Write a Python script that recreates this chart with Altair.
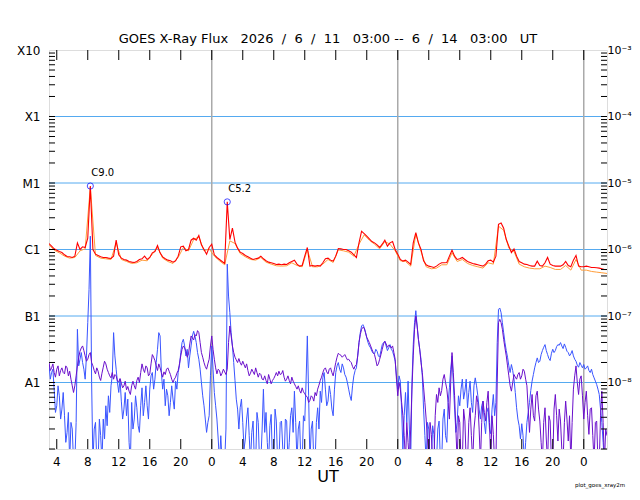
import altair as alt
import pandas as pd

# ---------------- data (log10 of flux, W/m^2), samples from 2026-06-11 03:00 UT
LONG_STEP_MIN = 20      # long channel (red)
ORANGE_STEP_MIN = 40    # secondary long channel (orange)
SHORT_STEP_MIN = 10     # short channels (blue, purple)

RED_LOG = [
    -5.91, -5.95, -5.99, -6.01, -6.03, -6.045, -6.08, -6.105, -6.11, -6.12,
    -6.10, -5.90, -6.00, -5.96, -5.97, -5.83, -5.045, -6.00, -6.07, -6.09,
    -6.11, -6.12, -6.12, -6.13, -6.135, -6.10, -5.86, -6.08, -6.13, -6.15,
    -6.16, -6.18, -6.19, -6.195, -6.18, -6.15, -6.14, -6.10, -6.15, -6.12,
    -6.05, -6.03, -5.94, -6.05, -6.11, -6.14, -6.16, -6.17, -6.19, -6.17,
    -6.10, -5.96, -5.95, -6.02, -6.00, -5.86, -5.83, -5.86, -5.79, -5.93,
    -6.00, -6.07, -5.97, -5.92, -6.08, -6.12, -6.15, -6.18, -6.21, -5.284,
    -5.85, -5.68, -5.89, -5.98, -6.04, -6.06, -6.09, -6.11, -6.13, -6.15,
    -6.14, -6.13, -6.10, -6.14, -6.17, -6.19, -6.20, -6.21, -6.225, -6.22,
    -6.23, -6.22, -6.225, -6.20, -6.18, -6.16, -6.22, -6.25, -6.24, -6.10,
    -5.97, -6.25, -6.24, -6.25, -6.24, -6.25, -6.20, -6.14, -6.13, -6.16,
    -6.175, -6.10, -5.985, -5.99, -6.00, -6.00, -6.02, -6.04, -6.08, -6.12,
    -5.90, -5.725, -5.76, -5.80, -5.84, -5.88, -5.90, -5.93, -5.97, -5.92,
    -5.86, -5.95, -5.90, -5.88, -6.00, -6.07, -6.15, -6.175, -6.16, -6.19,
    -6.225, -5.90, -5.745, -5.90, -6.00, -6.17, -6.23, -6.25, -6.26, -6.27,
    -6.25, -6.22, -6.20, -6.20, -6.195, -6.10, -6.01, -6.10, -6.15, -6.14,
    -6.12, -6.15, -6.18, -6.195, -6.21, -6.22, -6.23, -6.24, -6.25, -6.22,
    -6.17, -6.16, -6.19, -6.10, -5.62, -5.60, -5.68, -5.85, -5.95, -6.045,
    -5.99, -6.10, -6.18, -6.20, -6.22, -6.225, -6.24, -6.25, -6.25, -6.175,
    -6.24, -6.25, -6.20, -6.12, -6.22, -6.24, -6.25, -6.25, -6.25, -6.23,
    -6.18, -6.24, -6.26, -6.16, -6.09, -6.25, -6.26, -6.26, -6.25, -6.26,
    -6.27, -6.27, -6.275, -6.28, -6.29, -6.30, -6.30,
]

ORANGE_LOG = [
    -5.93, -6.01, -6.05, -6.10, -6.13, -6.12, -6.02, -5.99, -5.06, -6.09,
    -6.13, -6.14, -6.15, -5.90, -6.15, -6.18, -6.21, -6.20, -6.16, -6.17,
    -6.07, -5.97, -6.13, -6.18, -6.21, -6.12, -5.97, -6.02, -5.85, -5.81,
    -6.02, -5.99, -6.10, -6.17, -6.23, -5.87, -5.91, -6.06, -6.11, -6.15,
    -6.16, -6.12, -6.19, -6.22, -6.245, -6.25, -6.245, -6.20, -6.24, -6.26,
    -6.00, -6.26, -6.26, -6.22, -6.15, -6.195, -6.005, -6.02, -6.04, -6.10,
    -5.92, -5.78, -5.86, -5.92, -5.99, -5.88, -5.92, -6.02, -6.17, -6.18,
    -6.25, -5.77, -6.03, -6.26, -6.29, -6.28, -6.23, -6.23, -6.05, -6.18,
    -6.15, -6.21, -6.24, -6.26, -6.28, -6.20, -6.22, -5.65, -5.71, -5.98,
    -6.03, -6.22, -6.26, -6.28, -6.29, -6.29, -6.25, -6.27, -6.30, -6.30,
    -6.24, -6.31, -6.15, -6.31, -6.31, -6.33, -6.34, -6.35, -6.36,
]

BLUE_LOG = [
    -7.73, -7.95, -7.85, -7.80, -8.10, -8.45, -8.35, -8.05, -8.20, -8.55,
    -8.40, -8.15, -8.50, -8.90, -8.75, -8.45, -9.20, -8.60, -8.70, -9.20,
    -9.20, -8.60, -7.20, -7.75, -7.65, -7.55, -7.70, -7.80, -7.95, -7.60,
    -7.10, -6.60, -5.80, -8.00, -9.20, -8.70, -8.60, -9.20, -9.20, -8.55,
    -8.80, -9.20, -8.55, -8.85, -8.35, -8.65, -8.20, -8.45, -8.05, -7.90,
    -7.25, -7.60, -7.80, -8.00, -8.15, -7.95, -8.28, -8.55, -8.40, -8.15,
    -8.50, -8.25, -8.90, -9.20, -8.30, -8.70, -8.55, -8.20, -8.38, -8.65,
    -8.75, -8.35, -8.08, -8.50, -8.30, -8.05, -8.35, -8.55, -8.10, -7.90,
    -7.85, -8.10, -7.95, -7.70, -7.50, -7.25, -7.30, -7.85, -8.10, -7.95,
    -8.35, -8.10, -8.20, -8.50, -8.30, -8.05, -8.25, -8.40, -7.98, -8.10,
    -7.85, -7.75, -7.55, -7.40, -7.35, -7.45, -7.60, -7.50, -7.78, -7.60,
    -7.45, -7.30, -7.23, -7.30, -7.40, -7.55, -7.65, -7.80, -8.00, -8.20,
    -8.35, -8.55, -8.75, -8.60, -8.50, -7.90, -7.45, -7.80, -8.15, -8.35,
    -8.55, -8.85, -9.20, -8.80, -9.20, -9.20, -9.20, -8.70, -6.22, -6.70,
    -6.95, -7.25, -7.45, -7.70, -7.97, -8.25, -8.40, -8.70, -8.38, -8.25,
    -8.60, -9.00, -8.85, -8.55, -8.38, -8.80, -9.20, -8.75, -8.58, -9.20,
    -9.20, -8.45, -8.60, -9.20, -9.20, -8.70, -8.10, -8.75, -8.45, -8.90,
    -9.20, -8.65, -8.48, -9.20, -9.20, -8.40, -8.58, -9.20, -9.20, -8.60,
    -8.58, -9.00, -9.20, -8.55, -8.58, -9.20, -8.90, -8.50, -8.38, -8.75,
    -8.13, -8.60, -9.20, -8.70, -8.58, -9.20, -9.20, -8.50, -8.58, -8.00,
    -7.30, -8.20, -9.20, -8.70, -8.58, -9.20, -9.20, -8.60, -8.38, -8.70,
    -8.13, -8.30, -7.93, -7.85, -8.10, -8.35, -8.28, -8.05, -8.18, -8.40,
    -8.50, -8.10, -7.85, -7.75, -7.70, -7.80, -7.85, -7.72, -7.78, -7.88,
    -7.92, -8.00, -8.10, -8.20, -8.27, -8.05, -7.90, -7.82, -7.78, -7.60,
    -7.40, -7.25, -7.15, -7.13, -7.17, -7.24, -7.33, -7.40, -7.45, -7.48,
    -7.53, -7.56, -7.57, -7.50, -7.53, -7.60, -7.62, -7.52, -7.43, -7.40,
    -7.38, -7.45, -7.52, -7.48, -7.43, -7.50, -7.53, -7.60, -7.68, -7.90,
    -8.10, -7.90, -7.98, -8.40, -9.00, -8.50, -8.15, -8.60, -7.98, -8.70,
    -9.20, -8.00, -7.43, -7.10, -6.92, -7.15, -7.35, -7.50, -7.65, -7.90,
    -8.40, -8.80, -9.20, -8.60, -8.70, -9.20, -9.20, -8.65, -8.78, -9.20,
    -9.20, -8.70, -8.58, -9.20, -9.20, -8.55, -8.40, -8.80, -8.90, -8.30,
    -8.08, -7.80, -7.60, -8.00, -8.40, -8.75, -8.60, -8.20, -8.35, -8.10,
    -7.95, -8.25, -8.13, -7.95, -8.38, -8.15, -7.98, -8.30, -8.45, -8.05,
    -7.93, -8.05, -8.20, -8.40, -8.55, -8.35, -8.28, -8.60, -8.77, -8.45,
    -8.38, -8.70, -8.77, -8.40, -8.18, -8.50, -8.30, -7.40, -6.90, -6.88,
    -6.95, -7.10, -7.25, -7.40, -7.52, -7.62, -7.75, -7.85, -7.73, -7.82,
    -7.95, -8.15, -8.38, -8.55, -8.65, -8.85, -8.62, -8.80, -9.20, -8.90,
    -8.60, -8.45, -8.30, -8.12, -7.98, -7.88, -7.78, -7.70, -7.63, -7.70,
    -7.68, -7.58, -7.52, -7.47, -7.43, -7.52, -7.58, -7.64, -7.67, -7.56,
    -7.50, -7.55, -7.52, -7.46, -7.43, -7.44, -7.40, -7.45, -7.49, -7.42,
    -7.47, -7.53, -7.55, -7.60, -7.57, -7.52, -7.60, -7.65, -7.68, -7.74,
    -7.77, -7.70, -7.74, -7.78, -7.73, -7.80, -7.78, -7.75, -7.82, -7.85,
    -7.80, -7.88, -7.93, -7.98, -8.03, -8.10, -8.18, -8.40, -8.60, -8.90,
    -9.20, -9.20, -9.20,
]

PURPLE_LOG = [
    -7.70, -7.82, -7.78, -7.72, -7.85, -7.92, -7.80, -7.75, -7.90, -7.82,
    -7.78, -7.85, -7.87, -7.75, -7.78, -7.90, -7.83, -7.95, -8.05, -8.15,
    -8.05, -7.90, -7.75, -7.62, -7.53, -7.48, -7.45, -7.52, -7.60, -7.68,
    -7.65, -7.58, -7.55, -7.70, -7.75, -7.82, -7.87, -7.78, -7.83, -7.92,
    -7.97, -7.86, -7.77, -7.68, -7.72, -7.80, -7.85, -7.90, -7.93, -7.85,
    -7.95, -7.88, -7.90, -7.98, -7.99, -7.94, -8.01, -8.08, -8.05, -7.98,
    -8.11, -8.06, -8.13, -8.18, -8.05, -7.98, -8.05, -8.10, -7.97, -7.92,
    -8.00, -7.85, -7.72, -7.80, -7.85, -7.75, -7.78, -7.90, -7.87, -7.72,
    -7.58, -7.62, -7.67, -7.75, -7.82, -7.72, -7.78, -7.85, -7.92, -7.84,
    -7.88, -7.80, -7.78, -7.83, -7.88, -7.95, -8.00, -7.95, -7.92, -7.86,
    -7.82, -7.72, -7.60, -7.50, -7.45, -7.48, -7.53, -7.62, -7.57, -7.42,
    -7.30, -7.33, -7.36, -7.28, -7.30, -7.22, -7.25, -7.40, -7.55, -7.62,
    -7.70, -7.76, -7.80, -7.72, -7.65, -7.45, -7.30, -7.50, -7.65, -7.78,
    -7.87, -7.80, -7.82, -7.90, -7.86, -7.80, -7.84, -7.88, -7.80, -7.40,
    -7.15, -7.30, -7.45, -7.55, -7.62, -7.66, -7.70, -7.64, -7.70, -7.74,
    -7.68, -7.73, -7.78, -7.72, -7.82, -7.90, -7.86, -7.80, -7.84, -7.88,
    -7.78, -7.85, -7.92, -7.86, -7.88, -7.95, -7.96, -7.90, -7.97, -8.02,
    -7.88, -7.95, -8.02, -7.97, -7.94, -7.90, -7.85, -7.90, -7.83, -7.88,
    -7.87, -7.82, -7.92, -7.98, -7.95, -7.90, -7.97, -8.02, -7.92, -7.98,
    -8.02, -8.06, -8.10, -8.05, -8.12, -8.16, -8.08, -8.14, -8.17, -8.20,
    -8.22, -8.30, -8.27, -8.20, -8.22, -8.28, -8.15, -8.20, -8.10, -8.04,
    -7.97, -7.92, -7.85, -7.80, -7.78, -7.84, -7.87, -7.80, -7.78, -7.85,
    -7.90, -7.80, -7.70, -7.62, -7.56, -7.58, -7.59, -7.62, -7.60, -7.58,
    -7.62, -7.66, -7.65, -7.68, -7.70, -7.76, -7.80, -7.75, -7.73, -7.60,
    -7.40, -7.28, -7.20, -7.17, -7.18, -7.25, -7.32, -7.36, -7.40, -7.45,
    -7.50, -7.55, -7.58, -7.66, -7.75, -7.72, -7.65, -7.58, -7.50, -7.42,
    -7.38, -7.42, -7.47, -7.44, -7.45, -7.48, -7.45, -7.55, -7.65, -7.95,
    -8.20, -8.00, -8.10, -8.30, -8.50, -8.80, -9.20, -8.60, -8.90, -9.20,
    -8.70, -8.10, -7.60, -7.20, -7.00, -7.15, -7.35, -7.50, -7.70, -7.85,
    -8.07, -8.30, -8.55, -8.85, -9.20, -8.60, -8.78, -9.20, -9.20, -8.50,
    -8.18, -8.30, -8.08, -8.20, -8.12, -7.95, -7.88, -8.00, -8.10, -8.30,
    -8.55, -8.00, -7.55, -7.85, -8.20, -8.70, -9.20, -8.50, -8.60, -9.20,
    -9.20, -8.40, -8.58, -9.20, -9.20, -8.60, -8.38, -8.80, -9.20, -8.70,
    -8.50, -8.20, -8.30, -8.70, -9.20, -8.60, -8.28, -8.45, -8.58, -8.30,
    -8.13, -8.60, -9.20, -8.50, -8.78, -9.20, -9.20, -8.00, -7.10, -7.05,
    -7.10, -7.20, -7.35, -7.48, -7.60, -7.75, -7.90, -8.05, -8.13, -8.00,
    -7.88, -7.92, -7.95, -7.88, -7.85, -7.95, -7.90, -7.80, -7.83, -7.95,
    -8.05, -8.40, -8.75, -8.40, -8.18, -8.50, -8.58, -8.20, -8.13, -8.40,
    -8.58, -8.90, -9.20, -8.60, -8.38, -8.85, -9.20, -8.50, -8.58, -9.20,
    -9.20, -8.40, -8.18, -8.50, -8.88, -8.40, -8.58, -9.00, -9.20, -8.60,
    -8.28, -8.55, -8.88, -8.50, -9.20, -8.60, -8.10, -7.90, -7.75, -8.00,
    -8.18, -7.95, -7.90, -8.20, -8.55, -8.30, -8.13, -8.50, -8.78, -8.40,
    -8.38, -8.80, -9.20, -8.60, -8.58, -9.20, -9.20, -8.50, -8.13, -8.60,
    -9.20, -8.70, -8.80,
]

FLARE_HOURS = [5.333, 23.0]
FLARE_FLUX = [9.0e-6, 5.2e-6]
FLARE_LABELS = ["C9.0", "C5.2"]

DECADES = [1e-8, 1e-7, 1e-6, 1e-5, 1e-4, 1e-3]
GRID_DECADES = [1e-8, 1e-7, 1e-6, 1e-5, 1e-4]
DAY_START_HOURS = [21, 45, 69]
HOUR_TICKS = [1, 5, 9, 13, 17, 21, 25, 29, 33, 37, 41, 45, 49, 53, 57, 61, 65, 69]
START_HOUR_UT = 3

NB = "\u00a0"
TITLE = ("GOES X-Ray Flux" + NB * 3 + "2026" + NB * 2 + "/" + NB * 2 + "6" + NB * 2 + "/" + NB * 2 + "11"
         + NB * 3 + "03:00" + NB + "--" + NB * 2 + "6" + NB * 2 + "/" + NB * 2 + "14" + NB * 3 + "03:00"
         + NB * 3 + "UT")


# ---------------- build tables
def series_frame(vals, step_min):
    return pd.DataFrame({
        "h": [i * step_min / 60 for i in range(len(vals))],
        "flux": [10 ** v for v in vals],
    })


red_df = series_frame(RED_LOG, LONG_STEP_MIN)
orange_df = series_frame(ORANGE_LOG, ORANGE_STEP_MIN)
blue_df = series_frame(BLUE_LOG, SHORT_STEP_MIN)
purple_df = series_frame(PURPLE_LOG, SHORT_STEP_MIN)
flare_df = pd.DataFrame({"h": FLARE_HOURS, "flux": FLARE_FLUX, "label": FLARE_LABELS})

ytick_vals = [k * 10.0 ** n for n in range(-9, -3) for k in range(1, 10)]
ytick_df = pd.DataFrame({"v": ytick_vals})
grid_df = pd.DataFrame({"v": GRID_DECADES})
day_df = pd.DataFrame({"h": DAY_START_HOURS})
xtick_df = pd.DataFrame({"h": HOUR_TICKS})

W, H = 558, 399
FONT = "DejaVu Sans"

xs = alt.Scale(domain=[0, 72], nice=False, zero=False)
ys = alt.Scale(type="log", domain=[1e-9, 1e-3], nice=False)

left_axis = alt.Axis(
    orient="left", values=DECADES, ticks=False, domain=False, grid=False,
    labelExpr="['','','','X10','X1','M1','C1','B1','A1'][round(-log(datum.value)/LN10)]",
    labelPadding=9, labelFontSize=12, labelFont=FONT, labelColor="black",
    labelOverlap=False, labelFlush=False, title=None,
)
right_axis = alt.Axis(
    orient="right", values=DECADES, ticks=False, domain=False, grid=False,
    labelExpr="'10\u207b' + ['','','','\u00b3','\u2074','\u2075','\u2076','\u2077','\u2078'][round(-log(datum.value)/LN10)]",
    labelPadding=0, labelFontSize=11, labelFont=FONT, labelColor="black",
    labelOverlap=False, labelFlush=False, title=None,
)

grid_layer = alt.Chart(grid_df).mark_rule(color="#55aaf0", strokeWidth=1).encode(
    y=alt.Y("v:Q", scale=ys, axis=left_axis)
)
day_layer = alt.Chart(day_df).mark_rule(color="#aaaaaa", strokeWidth=1.5).encode(
    x=alt.X("h:Q", scale=xs, axis=None)
)


def line_layer(df, color, width):
    return alt.Chart(df).mark_line(color=color, strokeWidth=width, clip=True).encode(
        x=alt.X("h:Q", scale=xs, axis=None),
        y=alt.Y("flux:Q", scale=ys, axis=None),
    )


blue_layer = line_layer(blue_df, "#3a55ff", 1)
purple_layer = line_layer(purple_df, "#6a0fcc", 1)
orange_layer = line_layer(orange_df, "#ff9d3a", 1)
red_layer = line_layer(red_df, "#ff0000", 1.1)

ytick_left = alt.Chart(ytick_df).mark_rule(color="black", strokeWidth=1).encode(
    y=alt.Y("v:Q", scale=ys, axis=right_axis), x=alt.value(0), x2=alt.value(6)
)
ytick_right = alt.Chart(ytick_df).mark_rule(color="black", strokeWidth=1).encode(
    y=alt.Y("v:Q", scale=ys, axis=None), x=alt.value(W - 6), x2=alt.value(W)
)
xtick_bottom = alt.Chart(xtick_df).mark_rule(color="black", strokeWidth=1).encode(
    x=alt.X("h:Q", scale=xs, axis=None), y=alt.value(H - 10), y2=alt.value(H)
)
xtick_top = alt.Chart(xtick_df).mark_rule(color="black", strokeWidth=1).encode(
    x=alt.X("h:Q", scale=xs, axis=None), y=alt.value(0), y2=alt.value(10)
)
xlabels = alt.Chart(xtick_df).transform_calculate(
    lab=f"(datum.h + {START_HOUR_UT}) % 24"
).mark_text(baseline="middle", align="center", fontSize=12, font=FONT, color="black").encode(
    x=alt.X("h:Q", scale=xs, axis=None), y=alt.value(H + 13), text="lab:N"
)
xtitle = alt.Chart(pd.DataFrame({"t": ["UT"]})).mark_text(
    baseline="middle", align="center", fontSize=16, font=FONT, color="black"
).encode(x=alt.value(W / 2), y=alt.value(H + 28), text="t:N")

flare_pts = alt.Chart(flare_df).mark_point(
    shape="circle", filled=False, color="#0000ff", size=38, strokeWidth=1
).encode(x=alt.X("h:Q", scale=xs, axis=None), y=alt.Y("flux:Q", scale=ys, axis=None))
flare_txt = alt.Chart(flare_df).mark_text(
    align="left", baseline="alphabetic", dx=1, dy=-10, fontSize=10, font=FONT, color="black"
).encode(x=alt.X("h:Q", scale=xs, axis=None), y=alt.Y("flux:Q", scale=ys, axis=None), text="label:N")

foot = alt.Chart(pd.DataFrame({"t": ["plot_goes_xray2m"]})).mark_text(
    align="left", baseline="middle", fontSize=5.5, font=FONT, color="black"
).encode(x=alt.value(526), y=alt.value(435), text="t:N")

chart = alt.layer(
    grid_layer, day_layer, blue_layer, purple_layer, orange_layer, red_layer,
    ytick_left, ytick_right, xtick_bottom, xtick_top, xlabels, xtitle,
    flare_pts, flare_txt, foot,
).resolve_axis(y="independent").properties(
    width=W, height=H,
    title=alt.Title(TITLE, font=FONT, fontSize=13, fontWeight="normal", color="black",
                    anchor="middle", offset=-2),
    autosize=alt.AutoSizeParams(type="none"),
    padding={"left": 41, "top": 42, "right": 25, "bottom": 43},
).configure_view(stroke="black", strokeWidth=1).configure(background="white")

chart.save("out.html", embed_options={"renderer": "svg", "actions": False})
